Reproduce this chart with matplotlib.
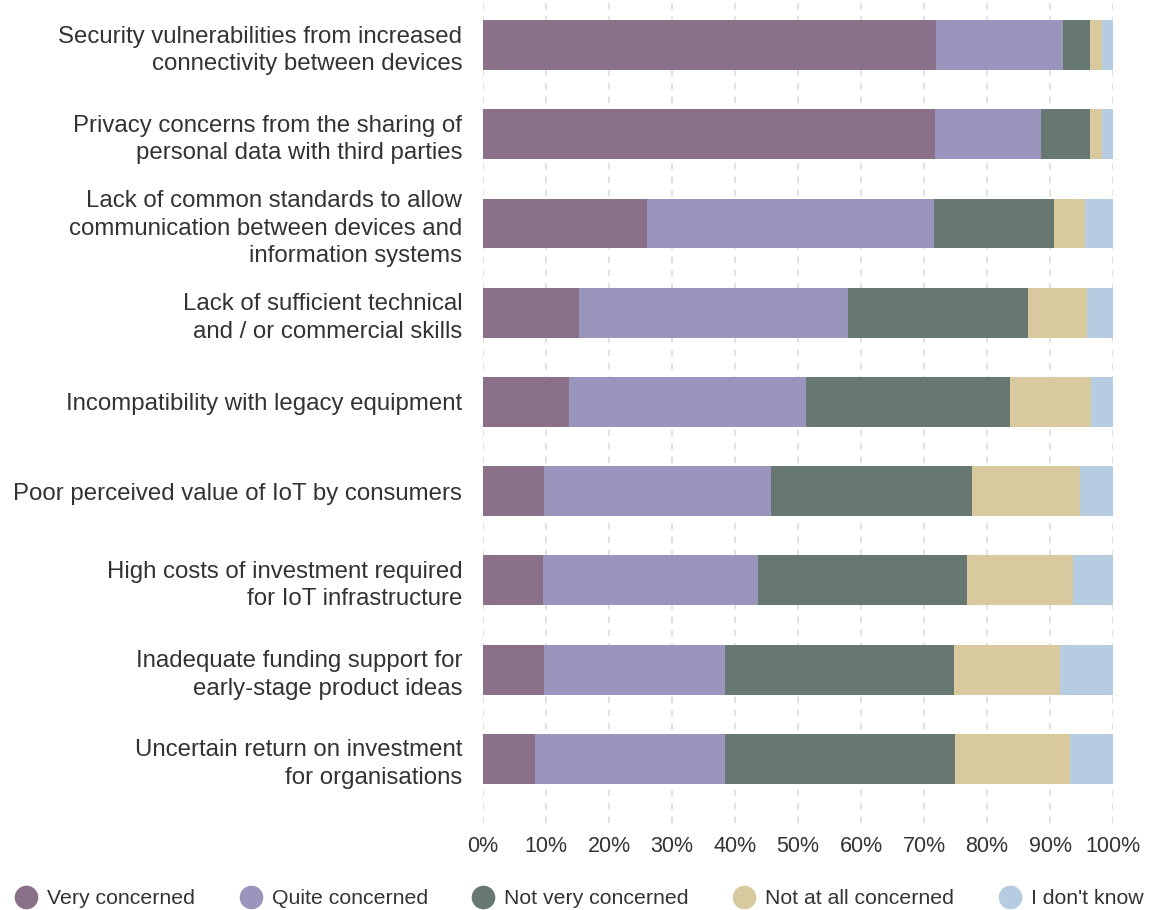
import matplotlib.pyplot as plt
from matplotlib.lines import Line2D
import numpy as np

plt.rcParams['font.family'] = ['Liberation Sans', 'DejaVu Sans']

# Survey: level of concern about barriers to IoT adoption (% of respondents)
issues = [
    "Security vulnerabilities from increased\nconnectivity between devices",
    "Privacy concerns from the sharing of\npersonal data with third parties",
    "Lack of common standards to allow\ncommunication between devices and\ninformation systems",
    "Lack of sufficient technical\nand / or commercial skills",
    "Incompatibility with legacy equipment",
    "Poor perceived value of IoT by consumers",
    "High costs of investment required\nfor IoT infrastructure",
    "Inadequate funding support for\nearly-stage product ideas",
    "Uncertain return on investment\nfor organisations",
]
responses = ["Very concerned", "Quite concerned", "Not very concerned",
             "Not at all concerned", "I don't know"]

very_concerned = [71.9, 71.7, 26.0, 15.3, 13.6, 9.6, 9.5, 9.7, 8.3]
quite_concerned = [20.2, 16.9, 45.6, 42.6, 37.7, 36.1, 34.2, 28.7, 30.1]
not_very = [4.3, 7.8, 19.0, 28.6, 32.4, 31.9, 33.1, 36.4, 36.5]
not_at_all = [1.8, 1.8, 5.0, 9.4, 12.8, 17.2, 16.9, 16.8, 18.2]
dont_know = [1.8, 1.8, 4.4, 4.1, 3.5, 5.2, 6.3, 8.4, 6.9]

colors = ["#8a7088", "#9a95bc", "#667871", "#d8ca9e", "#b6cce0"]
text_col = "#333333"

series = [very_concerned, quite_concerned, not_very, not_at_all, dont_know]

fig = plt.figure(figsize=(11.6, 9.1), dpi=100)
ax = fig.add_axes([0.4164, 0.0956, 0.5431, 0.9044])

y = np.arange(len(issues))
left = np.zeros(len(issues))
for vals, col, name in zip(series, colors, responses):
    vals = np.array(vals)
    ax.barh(y, vals, left=left, height=0.56, color=col, label=name, zorder=2)
    left += vals

ax.set_xlim(0, 100)
ax.set_ylim(len(issues) - 1 + 0.72, -0.505)
ax.set_xticks(np.arange(0, 101, 10))
ax.set_xticklabels([f"{v}%" for v in range(0, 101, 10)])
ax.set_yticks(y)
ax.set_yticklabels(issues, linespacing=1.33)
ax.tick_params(axis='both', length=0, colors=text_col)
ax.tick_params(axis='y', pad=15, labelsize=17.3)
ax.tick_params(axis='x', pad=9, labelsize=15.5)
for s in ax.spines.values():
    s.set_visible(False)
ax.grid(axis='x', color='#dddddd', linestyle=(0, (4, 4)), linewidth=1.2, zorder=0)
ax.set_axisbelow(True)

handles = [Line2D([0], [0], marker='o', linestyle='none', markersize=16,
                  markerfacecolor=c, markeredgecolor=c) for c in colors]
fig.legend(handles, responses, loc='lower center', bbox_to_anchor=(0.5, -0.019),
           ncol=5, frameon=False, fontsize=15.3, handlelength=0.9,
           handletextpad=0.55, columnspacing=2.15, labelcolor=text_col)

fig.savefig("out.png", dpi=100)
